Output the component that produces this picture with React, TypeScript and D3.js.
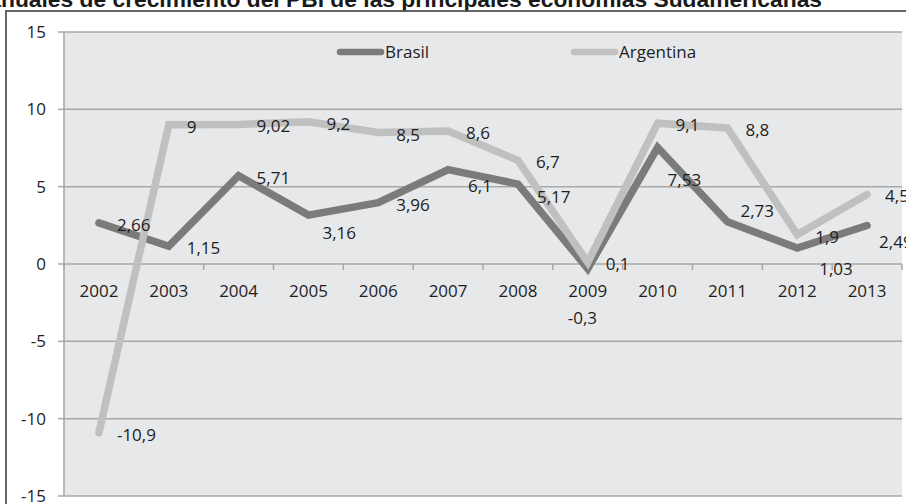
import React from "react";
import * as d3 from "d3";

const years = ["2002","2003","2004","2005","2006","2007","2008","2009","2010","2011","2012","2013"];
const brasil = [2.66, 1.15, 5.71, 3.16, 3.96, 6.1, 5.17, -0.3, 7.53, 2.73, 1.03, 2.49];
const argentina = [-10.9, 9, 9.02, 9.2, 8.5, 8.6, 6.7, 0.1, 9.1, 8.8, 1.9, 4.5];
const yTicks = [-15, -10, -5, 0, 5, 10, 15];
const seriesNames = ["Brasil", "Argentina"];
const title = "Tasas anuales de crecimiento del PBI de las principales economías Sudamericanas";

// label nudges (layout only) for Brasil labels relative to default "right" position
const brasilLabelNudge: [number, number][] = [
  [0, 0], [0, 0], [0, 0], [-4, 16], [0, 0], [2, 14], [1, 11], [-38, 47], [-8, 30], [-5, -13], [4, 19], [-6, 15],
];

const W = 906, H = 504;
const left = 64, right = 902, top = 32, bottom = 496;
const FONT = "'Open Sans', sans-serif";
const colBrasil = "#7b7b7c";
const colArg = "#c0c0c1";

export default function App() {
  const x = d3.scaleBand<string>().domain(years).range([left, right]).padding(0);
  const y = d3.scaleLinear().domain([-15, 15]).range([bottom, top]);
  const cx = (yr: string) => (x(yr) as number) + x.bandwidth() / 2;
  const line = d3.line<number>().x((_, i) => cx(years[i])).y((v) => y(v));
  const fmt = (v: number) => String(v).replace(".", ",");
  const boundaries = years.map((yr) => x(yr) as number).concat([right]);

  return (
    <svg width={W} height={H} style={{ position: "absolute", left: 0, top: 0 }} fontFamily={FONT}>
      <rect x={0} y={0} width={W} height={H} fill="#ffffff" />
      <text x={822} y={7} textAnchor="end" fontFamily="'Liberation Sans', Arial, sans-serif" fontWeight="bold" fontSize={22.8} fill="#1a1a1a">{title}</text>
      <rect x={6} y={11} width={W + 20} height={H + 20} fill="none" stroke="#555555" strokeWidth={1.8} />
      <rect x={left} y={top} width={right - left} height={bottom - top} fill="#e7e8e9" />
      {yTicks.map((t) => (
        <g key={t}>
          <line x1={left} x2={right} y1={y(t)} y2={y(t)} stroke="#a8a8a9" strokeWidth={1.5} />
          <line x1={58} x2={left} y1={y(t)} y2={y(t)} stroke="#a8a8a9" strokeWidth={1.5} />
          <text x={46} y={y(t) + 6} textAnchor="end" fontSize={17} fill="#1e1e1e">{t}</text>
        </g>
      ))}
      <line x1={left} x2={left} y1={top} y2={bottom} stroke="#a8a8a9" strokeWidth={1.5} />
      {boundaries.map((b, i) => (
        <line key={i} x1={b} x2={b} y1={y(0)} y2={y(0) + 6} stroke="#a8a8a9" strokeWidth={1.5} />
      ))}
      {years.map((yr) => (
        <text key={yr} x={cx(yr)} y={297} textAnchor="middle" fontSize={17} fill="#1e1e1e">{yr}</text>
      ))}
      <path d={line(brasil) || ""} fill="none" stroke={colBrasil} strokeWidth={7.5} strokeLinecap="round" strokeLinejoin="miter" />
      <path d={line(argentina) || ""} fill="none" stroke={colArg} strokeWidth={7.5} strokeLinecap="round" strokeLinejoin="miter" />
      {brasil.map((v, i) => (
        <text key={"b" + i} x={cx(years[i]) + 18 + brasilLabelNudge[i][0]} y={y(v) + 8 + brasilLabelNudge[i][1]} fontSize={17} fill="#1e1e1e">{fmt(v)}</text>
      ))}
      {argentina.map((v, i) => (
        <text key={"a" + i} x={cx(years[i]) + 18} y={y(v) + 8} fontSize={17} fill="#1e1e1e">{fmt(v)}</text>
      ))}
      {seriesNames.map((name, i) => {
        const lx = i === 0 ? 338 : 572;
        return (
          <g key={name}>
            <line x1={lx + 2} x2={lx + 43} y1={52} y2={52} stroke={i === 0 ? colBrasil : colArg} strokeWidth={6.5} strokeLinecap="round" />
            <text x={lx + 47} y={58} fontSize={17} fill="#1e1e1e">{name}</text>
          </g>
        );
      })}
    </svg>
  );
}
